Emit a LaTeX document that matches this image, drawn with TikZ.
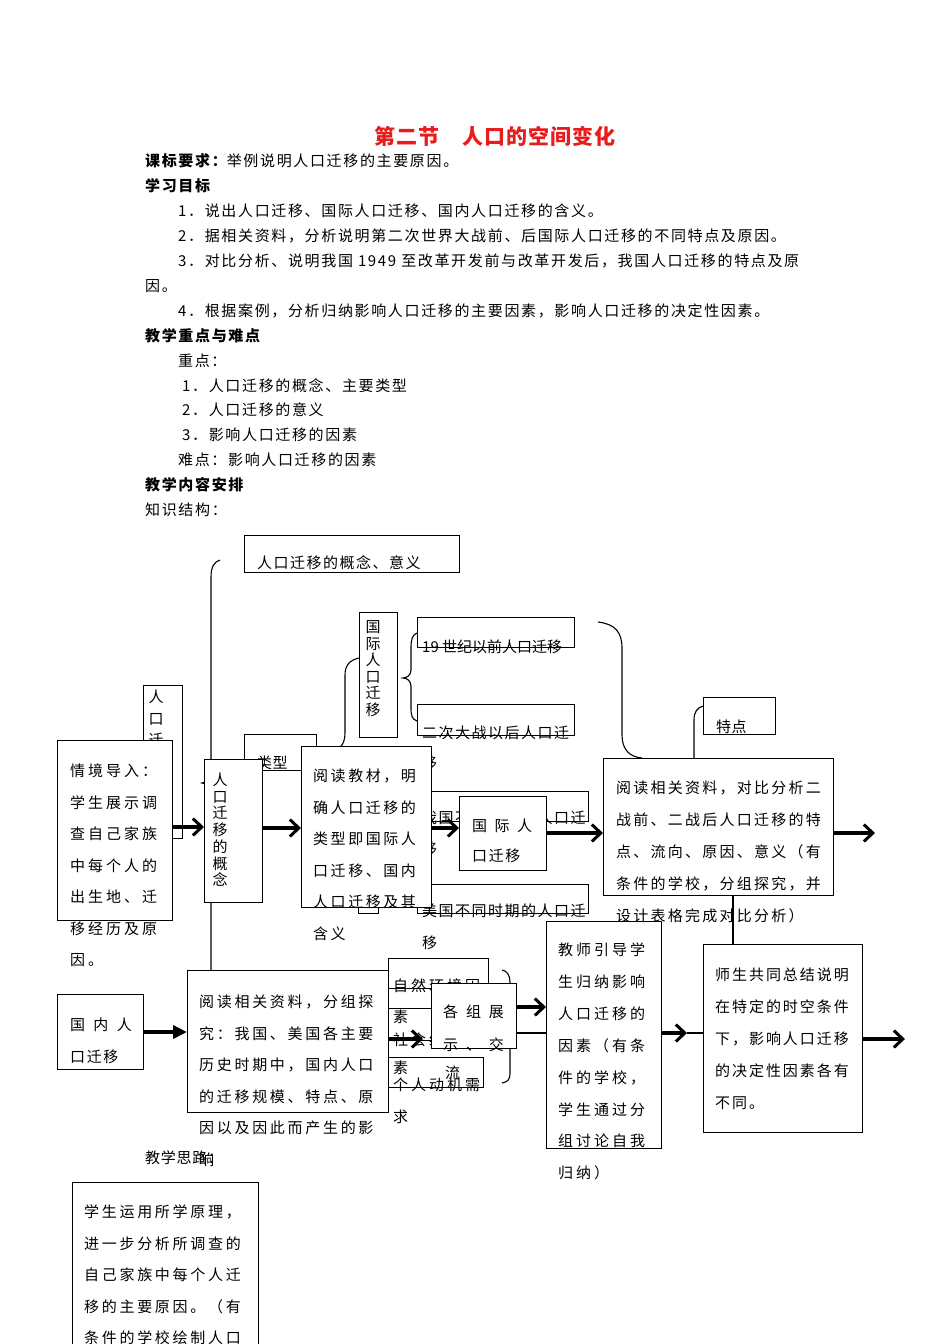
\documentclass[tikz,border=0pt]{standalone}
\usepackage{fontspec}
\setmainfont{Noto Sans CJK SC}
\usetikzlibrary{arrows.meta}
\definecolor{titlered}{RGB}{232,28,28}
\tikzset{
  box/.style={draw=black, fill=white, line width=1.1pt, inner sep=0pt, anchor=north west},
  tx/.style={anchor=west, inner sep=0pt, text height=13pt, text depth=2pt,
     font=\fontsize{15}{18}\selectfont\addfontfeature{LetterSpace=#1}},
  tx/.default=11,
  vc/.style={anchor=center, inner sep=0pt, text height=13pt, text depth=2pt, font=\fontsize{15}{18}\selectfont},
  ln/.style={line width=1.1pt},
  chev/.style={line width=4pt, -{Straight Barb[length=9pt,width=17pt,line width=3pt]}},
  tri/.style={line width=3.5pt, -{Triangle[length=14pt,width=13pt]}},
}
\begin{document}
\begin{tikzpicture}[x=1pt,y=-1pt]
\useasboundingbox (0,0) rectangle (950,1344);
% ---------------- header
\node[anchor=west, inner sep=0pt, text height=18pt, text depth=3pt,
  font=\fontsize{21}{24}\selectfont\bfseries\addfontfeature{LetterSpace=5}, text=titlered] (title) at (374,137) {第二节　人口的空间变化};
\node[tx] (h1) at (145,161) {{\bfseries 课标要求：}举例说明人口迁移的主要原因。};
\node[tx] (h2) at (145,186) {\bfseries 学习目标};
\node[tx] (h3) at (178,211) {1．说出人口迁移、国际人口迁移、国内人口迁移的含义。};
\node[tx] (h4) at (178,236) {2．据相关资料，分析说明第二次世界大战前、后国际人口迁移的不同特点及原因。};
\node[tx] (h5) at (178,261) {3．对比分析、说明我国 1949 至改革开发前与改革开发后，我国人口迁移的特点及原};
\node[tx] (h6) at (145,286) {因。};
\node[tx] (h7) at (178,311) {4．根据案例，分析归纳影响人口迁移的主要因素，影响人口迁移的决定性因素。};
\node[tx] (h8) at (145,336) {\bfseries 教学重点与难点};
\node[tx] (h9) at (178,361) {重点：};
\node[tx] (h10) at (182,386) {1．人口迁移的概念、主要类型};
\node[tx] (h11) at (182,410) {2．人口迁移的意义};
\node[tx] (h12) at (182,435) {3．影响人口迁移的因素};
\node[tx] (h13) at (178,460) {难点：影响人口迁移的因素};
\node[tx] (h14) at (145,485) {\bfseries 教学内容安排};
\node[tx] (h15) at (145,510) {知识结构：};
% ---------------- concept / meaning box
\node[box, minimum width=215pt, minimum height=37pt] (gy) at (244,535) {};
\node[tx=10] (gyt) at (257,563) {人口迁移的概念、意义};
% big left brace
\coordinate (bl1) at (220,560);
\coordinate (bl2) at (211,970);
\draw[ln] (bl1) .. controls (214,562) and (211,567) .. (211,577) -- (211,775)
  .. controls (211,779) and (207,782) .. (202,783) .. controls (207,784) and (211,787) .. (211,791) -- (bl2);
% hidden vertical box
\node[box, minimum width=39pt, minimum height=153pt] (rkq) at (143,685) {};
\foreach \c [count=\i] in {人,口,迁} \node[vc] (rkq-\i) at (156,{697+21.5*(\i-1)}) {\c};
% intro box
\node[box, minimum width=115pt, minimum height=180pt] (qj) at (57,740) {};
\foreach \txt [count=\i] in {情境导入：,学生展示调,查自己家族,中每个人的,出生地、迁,移经历及原,因。}
  \node[tx=20] (qj-\i) at (70,{771+31.5*(\i-1)}) {\txt};
% type box
\node[box, minimum width=72pt, minimum height=36pt] (lx) at (244,734) {};
\node[tx=3] (lxt) at (257,763) {类型};
% concept box
\node[box, minimum width=58pt, minimum height=143pt] (gn) at (204,759) {};
\foreach \c [count=\i] in {人,口,迁,移,的,概,念} \node[vc] (gn-\i) at (220,{780+16.7*(\i-1)}) {\c};
% international vertical box
\node[box, minimum width=38pt, minimum height=125pt] (gjv) at (359,612) {};
\foreach \c [count=\i] in {国,际,人,口,迁,移} \node[vc] (gjv-\i) at (373,{627+16.6*(\i-1)}) {\c};
% 19th c. and post-war boxes
\node[box, minimum width=157pt, minimum height=30pt] (s19) at (417,617) {};
\node[tx=0] (s19t) at (422,647) {19 世纪以前人口迁移};
\node[box, minimum width=157pt, minimum height=31pt] (ez) at (417,704) {};
\node[tx=10] (ezt) at (422,733) {二次大战以后人口迁};
\node[tx=10] (ezt2) at (422,763) {移};
% brace between gjv and the two boxes
\draw[ln] (s19.west |- 0,633) .. controls (412,635) and (411,640) .. (411,648) -- (411,670)
  .. controls (411,675) and (407,678) .. (403,678) .. controls (407,678) and (411,681) .. (411,686)
  -- (411,708) .. controls (411,716) and (412,719) .. (ez.west |- 0,721);
% China / USA boxes
\node[box, minimum width=171pt, minimum height=30pt] (wg) at (417,791) {};
\node[tx=10] (wgt) at (422,818) {我国不同时期的人口迁};
\node[tx=10] (wgt2) at (422,849) {移};
\node[box, minimum width=171pt, minimum height=29pt] (mg) at (417,884) {};
\node[tx=10] (mgt) at (422,911) {美国不同时期的人口迁};
\node[tx=10] (mgt2) at (422,943) {移};
\node[box, minimum width=20pt, minimum height=20pt] (hid) at (358,893) {};
% reading textbook box
\node[box, minimum width=130pt, minimum height=161pt] (yd) at (301,746) {};
\foreach \txt [count=\i] in {阅读教材，明,确人口迁移的,类型即国际人,口迁移、国内,人口迁移及其,含义}
  \node[tx=17] (yd-\i) at (313,{776+31.6*(\i-1)}) {\txt};
% curve gjv -> yd
\draw[ln] (gjv.west |- 0,658) .. controls (350,660) and (345,665) .. (345,675) -- (345,733)
  .. controls (345,740) and (343,744) .. (yd.north -| 341,0);
% international horizontal box
\node[box, minimum width=87pt, minimum height=74pt] (gjh) at (459,796) {};
\node[tx] (gjh-1) at (472,826) {国\hspace{7.5pt}际\hspace{7.5pt}人};
\node[tx] (gjh-2) at (472,856) {口迁移};
% arrows top row
\draw[chev] (qj.east |- 0,827) -- (gn.west |- 0,827);
\draw[chev] (gn.east |- 0,828) -- (yd.west |- 0,828);
\draw[chev] (yd.east |- 0,828) -- (gjh.west |- 0,828);
% teacher guide box (drawn before db so db's overflow text stays on top)
\node[box, minimum width=115pt, minimum height=227pt] (js) at (546,921) {};
\foreach \txt [count=\i] in {教师引导学,生归纳影响,人口迁移的,因素（有条,件的学校，,学生通过分,组讨论自我,归纳）}
  \node[tx=20] (js-\i) at (558,{950+31.9*(\i-1)}) {\txt};
% feature box
\node[box, minimum width=72pt, minimum height=37pt] (td) at (703,697) {};
\node[tx=3] (tdt) at (716,727) {特点};
% comparison box
\node[box, minimum width=230pt, minimum height=137pt] (db) at (603,758) {};
\foreach \txt [count=\i] in {阅读相关资料，对比分析二,战前、二战后人口迁移的特,点、流向、原因、意义（有,条件的学校，分组探究，并,设计表格完成对比分析）}
  \node[tx=15] (db-\i) at (616,{788+32*(\i-1)}) {\txt};
\draw[ln] (td.west |- 0,706) .. controls (697,708) and (694,712) .. (694,720) -- (db.north -| 694,0);
\draw[ln] (598,622) .. controls (615,624) and (622,632) .. (622,648) -- (622,735)
  .. controls (622,750) and (630,757) .. (db.north -| 642,0);
\draw[chev] (gjh.east |- 0,833) -- (db.west |- 0,833);
\coordinate (dbout) at (875,833);
\draw[chev] (db.east |- dbout) -- (dbout);
% summary box
\node[box, minimum width=159pt, minimum height=188pt] (ss) at (703,944) {};
\foreach \txt [count=\i] in {师生共同总结说明,在特定的时空条件,下，影响人口迁移,的决定性因素各有,不同。}
  \node[tx=13] (ss-\i) at (715,{975+32*(\i-1)}) {\txt};
\draw[ln] (db.south -| 733,0) -- (ss.north -| 733,0);
\coordinate (ssout) at (905,1039);
\draw[chev] (ss.east |- ssout) -- (ssout);
% domestic box
\node[box, minimum width=86pt, minimum height=75pt] (gn2) at (57,994) {};
\node[tx] (gn2-1) at (70,1025) {国\hspace{8.3pt}内\hspace{8.3pt}人};
\node[tx] (gn2-2) at (70,1057) {口迁移};
% group research box
\node[box, minimum width=201pt, minimum height=142pt] (fz) at (187,970) {};
\foreach \txt [count=\i] in {阅读相关资料，分组探,究：我国、美国各主要,历史时期中，国内人口,的迁移规模、特点、原,因以及因此而产生的影,响}
  \node[tx=18] (fz-\i) at (199,{1002+31.6*(\i-1)}) {\txt};
\draw[tri] (gn2.east |- 0,1032) -- (fz.west |- 0,1032);
% factor boxes
\node[box, minimum width=100pt, minimum height=30pt] (zr) at (388,958) {};
\node[box, minimum width=100pt, minimum height=32pt] (sh) at (388,1008) {};
\node[box, minimum width=95pt, minimum height=30pt] (gr) at (388,1057) {};
\node[tx=20] (zr-1) at (393,986) {自然环境因};
\node[tx=20] (zr-2) at (393,1017) {素};
\node[tx=20] (sh-1) at (393,1040) {社会经济因};
\node[tx=20] (sh-2) at (393,1068) {素};
\node[tx=20] (gr-1) at (393,1085) {个人动机需};
\node[tx=20] (gr-2) at (393,1117) {求};
% right brace of factors
\coordinate (gztip) at (516,1033);
\draw[ln] (502,970) .. controls (507,971) and (510,975) .. (510,982) -- (510,1025)
  .. controls (510,1030) and (513,1033) .. (gztip) .. controls (513,1033) and (510,1036) .. (510,1041)
  -- (510,1074) .. controls (510,1080) and (507,1082) .. (502,1083);
% group display box
\node[box, minimum width=85pt, minimum height=65pt] (gz) at (431,983) {};
\node[tx] (gz-1) at (443,1012) {各\hspace{7.8pt}组\hspace{7.8pt}展};
\node[tx] (gz-2) at (443,1045) {示\hspace{7.8pt}、\hspace{7.8pt}交};
\node[tx] (gz-3) at (445,1073) {流};
\coordinate (fzgz) at (423,1039);
\draw[chev] (fz.east |- fzgz) -- (fzgz);
\draw[chev] (gz.east |- 0,1007) -- (js.west |- 0,1007);
\draw[ln] (gztip) -- (js.west |- gztip);
\coordinate (jsss) at (687,1033);
\draw[chev] (js.east |- jsss) -- (jsss);
\draw[ln] (jsss) -- (ss.west |- jsss);
% teaching idea
\node[tx=5] (sl) at (145,1158) {教学思路：};
\node[box, minimum width=186pt, minimum height=180pt] (xs) at (72,1182) {};
\foreach \txt [count=\i] in {学生运用所学原理，,进一步分析所调查的,自己家族中每个人迁,移的主要原因。（有,条件的学校绘制人口}
  \node[tx=18] (xs-\i) at (84,{1212+31.6*(\i-1)}) {\txt};
\end{tikzpicture}
\end{document}
